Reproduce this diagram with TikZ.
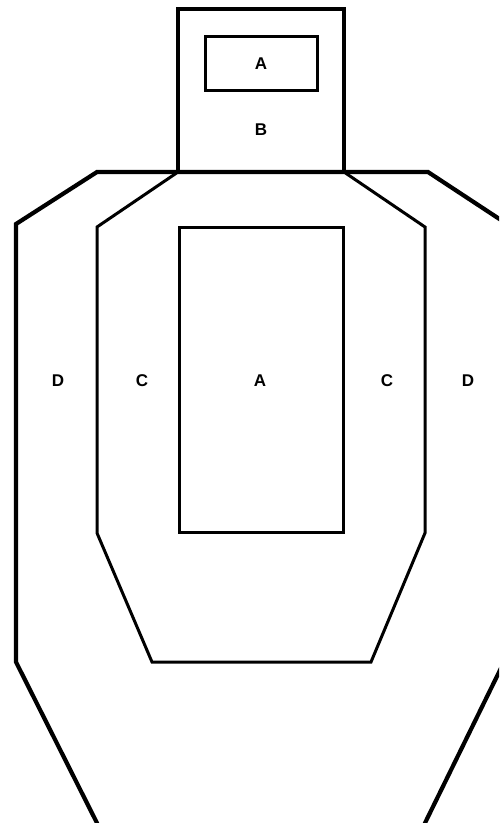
\documentclass[tikz,border=0pt]{standalone}
\usepackage{fontspec}
\setmainfont{Liberation Sans}
\begin{document}
\begin{tikzpicture}[x=1pt,y=-1pt,
  outerline/.style={line width=4.2pt,line join=miter},
  headline/.style={line width=3.6pt,line join=miter},
  innerline/.style={line width=3pt,line join=miter},
  lbl/.style={font=\bfseries\fontsize{17}{17}\selectfont,inner sep=0pt}]
\useasboundingbox (0,0) rectangle (499,823);
\clip (0,0) rectangle (499,823);
% outer silhouette (D)
\draw[outerline] (97,835) -- (97,823) -- (16,662) -- (16,224) -- (97,172) -- (428,172) -- (504,222) -- (504,662) -- (425,823) -- (425,835);
% C zone
\draw[innerline] (178,172) -- (97,227) -- (97,533) -- (152,662) -- (371,662) -- (425,533) -- (425,227) -- (344,172);
% head
\draw[headline] (178,172) rectangle (344,9);
\draw[innerline] (205,36) rectangle (317,90);
% central A
\draw[innerline] (179,227) rectangle (343,532);
% labels
\node[lbl] (ahead) at (261,64) {A};
\node[lbl] (bhead) at (261,130) {B};
\node[lbl] (dl) at (58,381) {D};
\node[lbl] (cl) at (142,381) {C};
\node[lbl] (ac) at (260,381) {A};
\node[lbl] (cr) at (387,381) {C};
\node[lbl] (dr) at (468,381) {D};
\end{tikzpicture}
\end{document}
